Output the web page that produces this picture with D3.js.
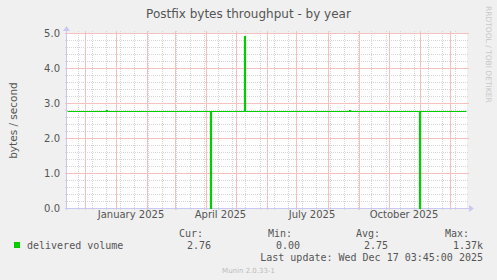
<!DOCTYPE html>
<html>
<head>
<meta charset="utf-8">
<script src="https://cdn.jsdelivr.net/npm/d3@7"></script>
<style>
  body { margin: 0; background: #f0f0f0; }
  svg { display: block; }
  text { font-family: "DejaVu Sans", sans-serif; fill: #555; }
  .mono { font-family: "DejaVu Sans Mono", monospace; }
</style>
</head>
<body>
<div id="chart"></div>
<script>
// data (daily averages, step changes only)
var stepDates = ["2024-11-13", "2024-12-22", "2024-12-23", "2025-04-05", "2025-04-06",
                 "2025-05-09", "2025-05-10", "2025-08-22", "2025-08-23", "2025-10-31",
                 "2025-11-01", "2025-12-17T03:45"];
var stepValues = [2.76, 2.79, 2.76, 0, 2.76, 4.91, 2.76, 2.79, 2.76, 0, 2.76, 2.76];

var yTicks = [0, 1, 2, 3, 4, 5];
var xLabelMonths = ["2025-01-01", "2025-04-01", "2025-07-01", "2025-10-01"];

var legendHeads = ["Cur:", "Min:", "Avg:", "Max:"];
var legendValues = ["2.76", "0.00", "2.75", "1.37k"];

var width = 497, height = 280;
var plot = {left: 67, right: 467, top: 33, bottom: 208};

var svg = d3.select("#chart").append("svg")
    .attr("width", width)
    .attr("height", height);

svg.append("rect").attr("width", width).attr("height", height).attr("fill", "#f0f0f0");
svg.append("rect")
    .attr("x", plot.left).attr("y", plot.top)
    .attr("width", plot.right - plot.left).attr("height", plot.bottom - plot.top)
    .attr("fill", "#ffffff");

var parse = function (s) { return new Date(s.length > 10 ? s : s + "T00:00"); };

var x = d3.scaleTime()
    .domain([new Date(2024, 10, 13, 12), new Date(2025, 11, 18, 12)])
    .range([plot.left, plot.right]);
var y = d3.scaleLinear().domain([0, 5]).range([plot.bottom, plot.top]);

// minor grid: every 0.2 vertically, every 2 weeks horizontally
var g = svg.append("g").attr("shape-rendering", "crispEdges");
g.selectAll("line.hmin").data(d3.range(0, 5.01, 0.2)).enter().append("line")
    .attr("class", "hmin")
    .attr("x1", plot.left - 2).attr("x2", plot.right + 2)
    .attr("y1", function (d) { return Math.round(y(d)) + 0.5; })
    .attr("y2", function (d) { return Math.round(y(d)) + 0.5; })
    .attr("stroke", "#d6d6d6").attr("stroke-dasharray", "1,1");

var sundays = d3.timeDay.range(new Date(2024, 10, 24), x.domain()[1], 14);
g.selectAll("line.vmin").data(sundays).enter().append("line")
    .attr("class", "vmin")
    .attr("x1", function (d) { return Math.round(x(d)) + 0.5; })
    .attr("x2", function (d) { return Math.round(x(d)) + 0.5; })
    .attr("y1", plot.top - 2).attr("y2", plot.bottom + 2)
    .attr("stroke", "#d6d6d6").attr("stroke-dasharray", "1,1");

// major grid (monthly / every 1.0)
g.selectAll("line.hmaj").data(yTicks).enter().append("line")
    .attr("class", "hmaj")
    .attr("x1", plot.left - 2).attr("x2", plot.right + 2)
    .attr("y1", function (d) { return Math.round(y(d)) + 0.5; })
    .attr("y2", function (d) { return Math.round(y(d)) + 0.5; })
    .attr("stroke", "#f6c0c0");

var months = d3.timeMonth.range(x.domain()[0], x.domain()[1]);
g.selectAll("line.vmaj").data(months).enter().append("line")
    .attr("class", "vmaj")
    .attr("x1", function (d) { return Math.round(x(d)) + 0.5; })
    .attr("x2", function (d) { return Math.round(x(d)) + 0.5; })
    .attr("y1", plot.top - 2).attr("y2", plot.bottom + 2)
    .attr("stroke", "#f6c0c0");

// axes lines with arrows
svg.append("line")
    .attr("x1", plot.left - 2).attr("x2", plot.right + 2)
    .attr("y1", plot.bottom + 0.5).attr("y2", plot.bottom + 0.5)
    .attr("stroke", "#c8c8f0").attr("shape-rendering", "crispEdges");
svg.append("line")
    .attr("x1", plot.left - 0.5).attr("x2", plot.left - 0.5)
    .attr("y1", plot.bottom + 2).attr("y2", plot.top - 4)
    .attr("stroke", "#c8c8f0").attr("shape-rendering", "crispEdges");
svg.append("path")
    .attr("d", "M" + (plot.right + 2) + "," + (plot.bottom - 3) + " l5,3.5 l-5,3.5 z")
    .attr("fill", "#c8c8f0");
svg.append("path")
    .attr("d", "M" + (plot.left - 4) + "," + (plot.top - 2) + " l3.5,-5 l3.5,5 z")
    .attr("fill", "#c8c8f0");

// y tick labels
svg.selectAll("text.ylab").data(yTicks).enter().append("text")
    .attr("class", "ylab")
    .attr("x", 60).attr("y", function (d) { return y(d) + 3.5; })
    .attr("text-anchor", "end").style("font-size", "10px")
    .text(function (d) { return d.toFixed(1); });

// x labels, centred on the middle of the month
svg.selectAll("text.xlab").data(xLabelMonths).enter().append("text")
    .attr("class", "xlab")
    .attr("x", function (d) {
        var a = parse(d);
        return (x(a) + x(d3.timeMonth.offset(a, 1))) / 2;
    })
    .attr("y", 218).attr("text-anchor", "middle").style("font-size", "10px")
    .text(function (d) { return d3.timeFormat("%B %Y")(parse(d)); });

// the series
var points = stepDates.map(function (d, i) { return [parse(d), stepValues[i]]; });
var line = d3.line()
    .x(function (d) { return Math.round(x(d[0])) + 0.5; })
    .y(function (d) { return Math.round(y(d[1])) + 0.5; })
    .curve(d3.curveStepAfter);
svg.append("path").datum(points)
    .attr("d", line)
    .attr("fill", "none")
    .attr("stroke", "#00cc00")
    .attr("stroke-width", 1.2);

// titles
svg.append("text").attr("x", 248.5).attr("y", 18).attr("text-anchor", "middle")
    .style("font-size", "12px").text("Postfix bytes throughput - by year");
svg.append("text")
    .attr("transform", "translate(17," + ((plot.top + plot.bottom) / 2) + ") rotate(-90)")
    .attr("text-anchor", "middle").style("font-size", "10.5px")
    .text("bytes / second");
svg.append("text")
    .attr("transform", "translate(486,6) rotate(90)")
    .style("font-size", "7.5px").style("fill", "#c8c8c8")
    .text("RRDTOOL / TOBI OETIKER");

// legend
svg.append("rect").attr("x", 14).attr("y", 242).attr("width", 6).attr("height", 6)
    .attr("fill", "#00cc00");
svg.append("text").attr("class", "mono").attr("x", 27).attr("y", 249)
    .style("font-size", "10px").text("delivered volume");

var headX = [203, 292, 380, 469];
var valX = [211, 300, 388, 483];
svg.selectAll("text.lh").data(legendHeads).enter().append("text")
    .attr("class", "mono lh").attr("x", function (d, i) { return headX[i]; }).attr("y", 237)
    .attr("text-anchor", "end").style("font-size", "10px").text(function (d) { return d; });
svg.selectAll("text.lv").data(legendValues).enter().append("text")
    .attr("class", "mono lv").attr("x", function (d, i) { return valX[i]; }).attr("y", 249)
    .attr("text-anchor", "end").style("font-size", "10px").text(function (d) { return d; });

svg.append("text").attr("class", "mono").attr("x", 483).attr("y", 261)
    .attr("text-anchor", "end").style("font-size", "10px")
    .text("Last update: Wed Dec 17 03:45:00 2025");
svg.append("text").attr("x", 248.5).attr("y", 273).attr("text-anchor", "middle")
    .style("font-size", "7px").style("fill", "#bbbbbb").text("Munin 2.0.33-1");
</script>
</body>
</html>
